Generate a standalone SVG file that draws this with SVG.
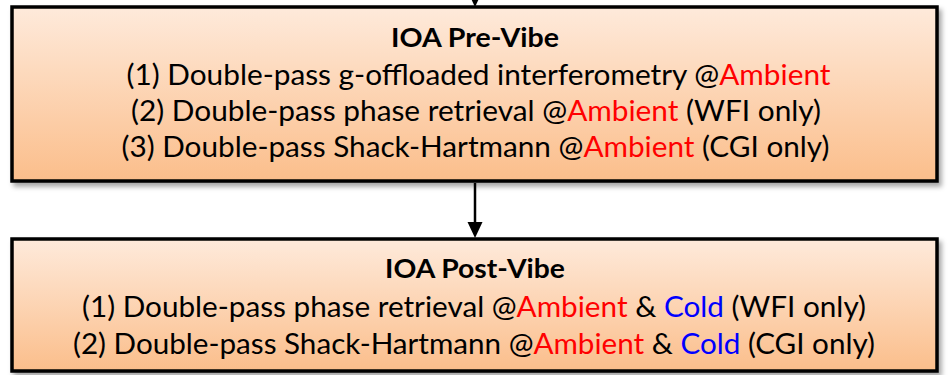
<svg xmlns="http://www.w3.org/2000/svg" width="949" height="375" viewBox="0 0 949 375">
  <defs>
    <linearGradient id="peach" x1="0" y1="0" x2="0" y2="1">
      <stop offset="0" stop-color="#FEEADB"/>
      <stop offset="1" stop-color="#FBBE8B"/>
    </linearGradient>
    <filter id="shadow" x="-5%" y="-10%" width="110%" height="125%">
      <feDropShadow dx="3" dy="4" stdDeviation="2.5" flood-color="#000" flood-opacity="0.35"/>
    </filter>
  </defs>
  <style>
    .box { fill: url(#peach); stroke: #000; stroke-width: 3.5; filter: url(#shadow); }
    text { font-family: Lato, "Open Sans", "Liberation Sans", sans-serif; font-size: 28.5px; fill: #000; text-anchor: middle; }
    .title { font-weight: bold; font-size: 27px; }
    .amb { fill: #FF0000; }
    .cold { fill: #0000FF; }
    .conn { stroke: #000; stroke-width: 2.5; fill: none; }
    .head { fill: #000; }
  </style>

  <g id="connectors">
    <line class="conn" x1="475" y1="0" x2="475" y2="-6"/>
    <polygon class="head" points="467.5,-9 482.5,-9 475,7"/>
    <line class="conn" x1="475" y1="183" x2="475" y2="224"/>
    <polygon class="head" points="467.5,222 482.5,222 475,238"/>
  </g>

  <g id="pre-vibe">
    <rect class="box" x="12" y="7" width="925" height="174"/>
    <text class="title" x="475" y="47" textLength="168" lengthAdjust="spacingAndGlyphs">IOA Pre-Vibe</text>
    <text x="478.5" y="85" textLength="704" lengthAdjust="spacingAndGlyphs">(1) Double-pass g-offloaded interferometry @<tspan class="amb">Ambient</tspan></text>
    <text x="476" y="121" textLength="690" lengthAdjust="spacingAndGlyphs">(2) Double-pass phase retrieval @<tspan class="amb">Ambient</tspan> (WFI only)</text>
    <text x="475.5" y="157" textLength="708" lengthAdjust="spacingAndGlyphs">(3) Double-pass Shack-Hartmann @<tspan class="amb">Ambient</tspan> (CGI only)</text>
  </g>

  <g id="post-vibe">
    <rect class="box" x="12" y="239" width="925" height="132"/>
    <text class="title" x="475" y="278" textLength="180" lengthAdjust="spacingAndGlyphs">IOA Post-Vibe</text>
    <text x="474" y="317" textLength="784" lengthAdjust="spacingAndGlyphs">(1) Double-pass phase retrieval @<tspan class="amb">Ambient</tspan> &amp; <tspan class="cold">Cold</tspan> (WFI only)</text>
    <text x="474" y="354" textLength="802" lengthAdjust="spacingAndGlyphs">(2) Double-pass Shack-Hartmann @<tspan class="amb">Ambient</tspan> &amp; <tspan class="cold">Cold</tspan> (CGI only)</text>
  </g>
</svg>
